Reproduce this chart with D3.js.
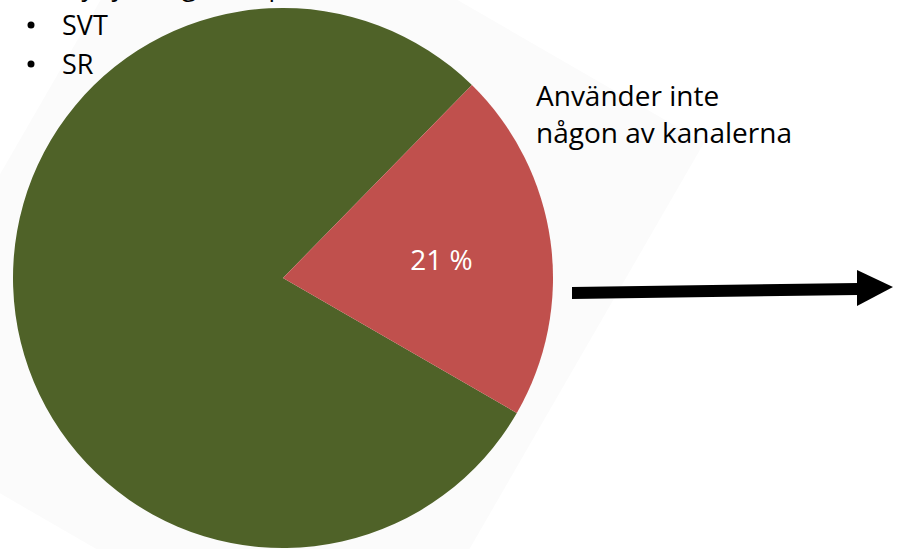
<!DOCTYPE html>
<html>
<head>
<meta charset="utf-8">
<script src="https://cdn.jsdelivr.net/npm/d3@7"></script>
<style>
  html, body { margin: 0; padding: 0; background: #fff; }
  svg { display: block; font-family: "Open Sans", "Noto Sans", sans-serif; }
</style>
</head>
<body>
<svg id="chart" width="897" height="549"></svg>
<script>
// data
const categories = ['Använder någon av kanalerna', 'Använder inte någon av kanalerna'];
const shares = [79, 21];
const colors = ['#4f6228', '#c0504d'];
const sliceLabels = ['', '21 %'];
const bullets = ['SVT', 'SR'];
const heading = 'Nyttjar någon av public service-kanalerna';
const calloutLines = ['Använder inte', 'någon av kanalerna'];

const width = 897, height = 549;
const cx = 283, cy = 278, radius = 270;
const svg = d3.select('#chart');

// faint rotated backdrop behind the pie
const halfW = 297, halfH = 328;
svg.append('rect')
  .attr('x', -halfW).attr('y', -halfH)
  .attr('width', halfW * 2).attr('height', halfH * 2)
  .attr('fill', '#fbfbfb')
  .attr('transform', `translate(${cx},${cy}) rotate(30)`);

// pie, red slice starts at ~44 degrees
const startAngle = 44.4 * Math.PI / 180;
const pie = d3.pie().sort(null)
  .startAngle(startAngle - (shares[0] / 100) * 2 * Math.PI)
  .endAngle(startAngle + (shares[1] / 100) * 2 * Math.PI);
const arc = d3.arc().innerRadius(0).outerRadius(radius);
const labelArc = d3.arc().innerRadius(radius * 0.6).outerRadius(radius * 0.6);

const g = svg.append('g').attr('transform', `translate(${cx},${cy})`);
const arcs = pie(shares);
g.selectAll('path.slice')
  .data(arcs).enter().append('path')
  .attr('class', 'slice')
  .attr('d', arc)
  .attr('fill', (d, i) => colors[i]);

g.selectAll('text.lbl')
  .data(arcs).enter().append('text')
  .attr('class', 'lbl')
  .attr('transform', d => `translate(${labelArc.centroid(d)})`)
  .attr('text-anchor', 'middle')
  .attr('dx', -2)
  .attr('dy', '0.5em')
  .attr('fill', '#fff')
  .attr('font-size', 28)
  .text((d, i) => sliceLabels[i]);

// heading cut off at the top
svg.append('text')
  .attr('x', 62).attr('y', -4)
  .attr('font-size', 26)
  .attr('fill', '#000')
  .text(heading);

// bullet list
const bl = svg.append('g');
bullets.forEach((b, i) => {
  const y = 35 + i * 39;
  bl.append('circle').attr('cx', 31).attr('cy', y - 10).attr('r', 3.5).attr('fill', '#000');
  bl.append('text').attr('x', 62).attr('y', y).attr('font-size', 27).text(b);
});

// callout text
calloutLines.forEach((t, i) => {
  svg.append('text')
    .attr('x', 536).attr('y', 106 + i * 37)
    .attr('font-size', 28)
    .attr('fill', '#000')
    .text(t);
});

// arrow
svg.append('path')
  .attr('d', 'M572,287 L858,283 L858,295 L572,299 Z')
  .attr('fill', '#000');
svg.append('path')
  .attr('d', 'M857,270 L893,287 L857,306 Z')
  .attr('fill', '#000');
</script>
</body>
</html>
